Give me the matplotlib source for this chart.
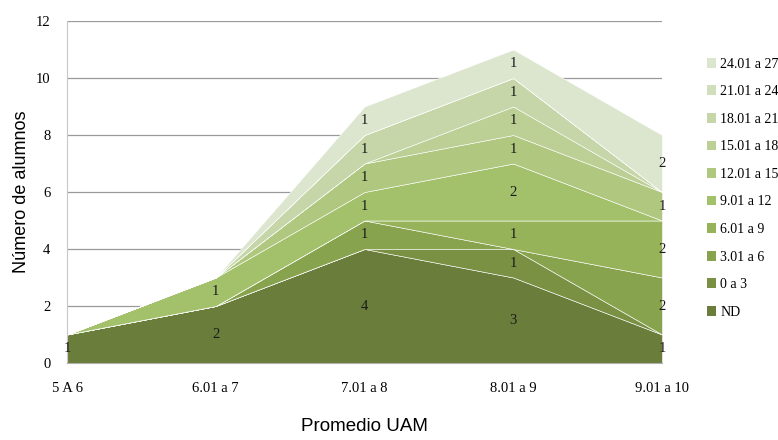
import numpy as np
import matplotlib
matplotlib.use("Agg")
import matplotlib.pyplot as plt
from matplotlib.patches import Patch

# Categorías del eje x (promedio UAM)
categorias = ["5 A 6", "6.01 a 7", "7.01 a 8", "8.01 a 9", "9.01 a 10"]

# Series (de abajo hacia arriba en el apilado)
series = ["ND", "0 a 3", "3.01 a 6", "6.01 a 9", "9.01 a 12",
          "12.01 a 15", "15.01 a 18", "18.01 a 21", "21.01 a 24", "24.01 a 27"]

nd = [1, 2, 4, 3, 1]
s_0_3 = [0, 0, 0, 1, 0]
s_3_6 = [0, 0, 1, 0, 2]
s_6_9 = [0, 0, 0, 1, 2]
s_9_12 = [0, 1, 1, 2, 0]
s_12_15 = [0, 0, 1, 1, 1]
s_15_18 = [0, 0, 0, 1, 0]
s_18_21 = [0, 0, 1, 1, 0]
s_21_24 = [0, 0, 0, 0, 0]
s_24_27 = [0, 0, 1, 1, 2]

valores = [nd, s_0_3, s_3_6, s_6_9, s_9_12, s_12_15, s_15_18, s_18_21, s_21_24, s_24_27]

colores = ["#6b7d3b", "#7a9144", "#88a34e", "#96b35a", "#a3c06b",
           "#afc77f", "#bccf95", "#c6d6a9", "#d1debb", "#dce5cd"]

fig = plt.figure(figsize=(7.78, 4.4), dpi=100)
ax = fig.add_axes([67 / 778, 1 - 363 / 440, (662 - 67) / 778, (363 - 21) / 440])

x = np.arange(len(categorias))
ax.stackplot(x, valores, colors=colores, edgecolor="white", linewidth=0.4, zorder=2)

# Etiquetas de datos en el centro de cada banda
acumulado = np.zeros(len(categorias))
for vals in valores:
    vals = np.array(vals, dtype=float)
    for i in range(len(categorias)):
        if vals[i] > 0:
            ax.text(x[i], acumulado[i] + vals[i] / 2, f"{int(vals[i])}",
                    ha="center", va="center", fontsize=10.5,
                    family="Liberation Serif", color="#1a1a1a", zorder=3)
    acumulado += vals

ax.set_xlim(0, len(categorias) - 1)
ax.set_ylim(0, 12)
ax.set_yticks(range(0, 13, 2))
ax.set_xticks(x)
ax.set_xticklabels(categorias, family="Liberation Serif", fontsize=10.5)
for lab in ax.get_yticklabels():
    lab.set_family("Liberation Serif")
    lab.set_fontsize(10.5)
ax.tick_params(axis="y", length=0, pad=12)
ax.tick_params(axis="x", length=0, pad=14)

ax.grid(axis="y", color="#9a9a9a", linewidth=0.9, zorder=0)
ax.set_axisbelow(True)
for lado in ["top", "right"]:
    ax.spines[lado].set_visible(False)
ax.spines["left"].set_color("#c8c8c8")
ax.spines["bottom"].set_color("#b0b0b0")

ax.set_ylabel("Número de alumnos", fontsize=13, family="Liberation Sans", labelpad=4)
ax.set_xlabel("Promedio UAM", fontsize=13.5, family="Liberation Sans", labelpad=16)

# Leyenda (orden inverso, como en el original)
handles = [Patch(facecolor=c, edgecolor="none") for c in colores][::-1]
fig.legend(handles, series[::-1], loc="upper left",
           bbox_to_anchor=(701 / 778, 1 - 52 / 440), frameon=False,
           prop={"family": "Liberation Serif", "size": 10}, handlelength=0.7,
           handleheight=0.7, handletextpad=0.3, labelspacing=1.05, borderaxespad=0)

fig.savefig("out.png", dpi=100)
